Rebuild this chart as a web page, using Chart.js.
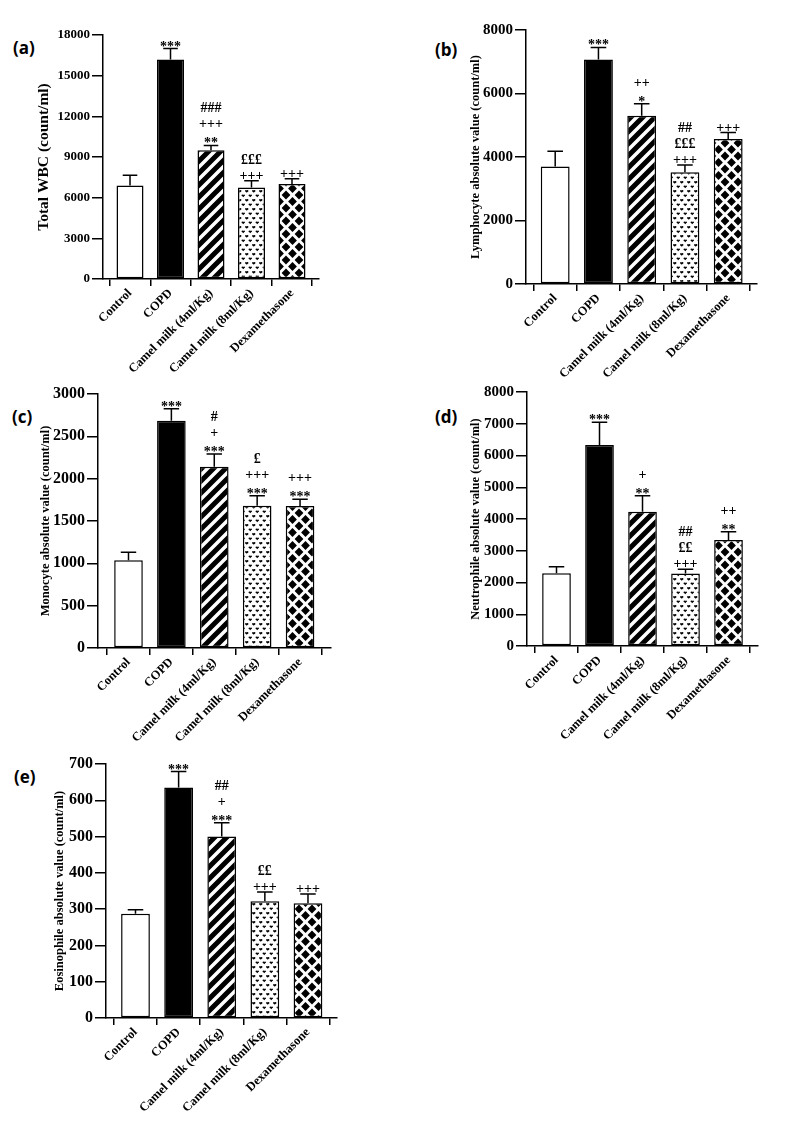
<!DOCTYPE html>
<html><head><meta charset="utf-8">
<script src="https://cdn.jsdelivr.net/npm/chart.js@4.4.1/dist/chart.umd.min.js"></script>
<style>
html,body{margin:0;padding:0;background:#fff;}
body{width:787px;height:1140px;position:relative;overflow:hidden;}
canvas.pc{position:absolute;}
.lbl{position:absolute;font-family:"Open Sans",sans-serif;font-weight:700;font-size:17px;color:#000;line-height:1;}
</style></head><body>
<div class="lbl" style="left:13px;top:39px">(a)</div>
<div class="lbl" style="left:435px;top:41px">(b)</div>
<div class="lbl" style="left:12px;top:408px">(c)</div>
<div class="lbl" style="left:435px;top:408px">(d)</div>
<div class="lbl" style="left:14px;top:768px">(e)</div>
<canvas id="ca" class="pc" width="330" height="385" style="left:0;top:0;width:330px;height:385px"></canvas>
<canvas id="cb" class="pc" width="387" height="385" style="left:400px;top:0;width:387px;height:385px"></canvas>
<canvas id="cc" class="pc" width="340" height="400" style="left:0;top:370px;width:340px;height:400px"></canvas>
<canvas id="cd" class="pc" width="387" height="400" style="left:400px;top:370px;width:387px;height:400px"></canvas>
<canvas id="ce" class="pc" width="350" height="400" style="left:0;top:740px;width:350px;height:400px"></canvas>
<script>
// ---------- data ----------
const categories = ["Control", "COPD", "Camel milk (4ml/Kg)", "Camel milk (8ml/Kg)", "Dexamethasone"];

const wbcMean = [6900, 16200, 9500, 6750, 7000];
const wbcSem  = [750, 800, 350, 500, 400];
const wbcTicks = [0, 3000, 6000, 9000, 12000, 15000, 18000];
const wbcMarks = [[], ["***"], ["**", "+++", "###"], ["+++", "£££"], ["+++"]];

const lymMean = [3700, 7070, 5300, 3520, 4570];
const lymSem  = [480, 380, 380, 230, 200];
const lymTicks = [0, 2000, 4000, 6000, 8000];
const lymMarks = [[], ["***"], ["*", "++"], ["+++", "£££", "##"], ["+++"]];

const monMean = [1035, 2685, 2140, 1680, 1677];
const monSem  = [95, 142, 151, 119, 79];
const monTicks = [0, 500, 1000, 1500, 2000, 2500, 3000];
const monMarks = [[], ["***"], ["***", "+", "#"], ["***", "+++", "£"], ["***", "+++"]];

const neuMean = [2290, 6330, 4230, 2285, 3340];
const neuSem  = [210, 715, 505, 130, 260];
const neuTicks = [0, 1000, 2000, 3000, 4000, 5000, 6000, 7000, 8000];
const neuMarks = [[], ["***"], ["**", "+"], ["+++", "££", "##"], ["**", "++"]];

const eosMean = [287, 635, 500, 322, 316];
const eosSem  = [11, 44, 38, 25, 26];
const eosTicks = [0, 100, 200, 300, 400, 500, 600, 700];
const eosMarks = [[], ["***"], ["***", "+", "##"], ["+++", "££"], ["+++"]];

// ---------- patterns ----------
function tile(w, h, draw) {
  const c = document.createElement('canvas'); c.width = w; c.height = h;
  const g = c.getContext('2d'); g.fillStyle = '#fff'; g.fillRect(0, 0, w, h);
  g.fillStyle = '#000'; g.strokeStyle = '#000'; draw(g, w, h);
  return document.createElement('canvas').getContext('2d').createPattern(c, 'repeat');
}
function stripes() {
  return tile(12, 12, (g, w) => {
    g.lineWidth = 5; g.lineCap = 'square';
    g.beginPath();
    g.moveTo(-2, w + 2); g.lineTo(w + 2, -2);
    g.moveTo(-8, 8); g.lineTo(8, -8);
    g.moveTo(4, 20); g.lineTo(20, 4);
    g.stroke();
  });
}
function hearts() {
  return tile(7, 9, (g) => {
    const heart = (cx, cy) => {
      g.beginPath();
      g.arc(cx - 0.8, cy - 0.5, 0.85, 0, Math.PI * 2);
      g.arc(cx + 0.8, cy - 0.5, 0.85, 0, Math.PI * 2);
      g.fill();
      g.beginPath(); g.moveTo(cx - 1.6, cy - 0.3); g.lineTo(cx + 1.6, cy - 0.3); g.lineTo(cx, cy + 1.5); g.closePath(); g.fill();
    };
    heart(1.75, 2.25); heart(5.25, 6.75);
  });
}
function diamonds() {
  return tile(13, 13, (g, w) => {
    const d = 4.4;
    const dia = (cx, cy) => { g.beginPath(); g.moveTo(cx, cy - d); g.lineTo(cx + d, cy); g.lineTo(cx, cy + d); g.lineTo(cx - d, cy); g.closePath(); g.fill(); };
    dia(6.5, 6.5); dia(0, 0); dia(w, 0); dia(0, w); dia(w, w);
  });
}
const fills = ['#ffffff', '#000000', stripes(), hearts(), diamonds()];

// ---------- helpers ----------
const SERIF = '"Liberation Serif", "Times New Roman", serif';
function errPlugin(sem, marks) {
  return {
    id: 'errMarks',
    afterDatasetsDraw(chart) {
      const ctx = chart.ctx, y = chart.scales.y;
      const meta = chart.getDatasetMeta(0), ds = chart.data.datasets[0];
      ctx.save();
      ctx.strokeStyle = '#000'; ctx.lineWidth = 1.5; ctx.fillStyle = '#000';
      meta.data.forEach((bar, i) => {
        const v = ds.data[i].y;
        const px = bar.x, by = bar.y, top = y.getPixelForValue(v + sem[i]);
        const half = bar.width * 0.27;
        ctx.beginPath();
        ctx.moveTo(px, by); ctx.lineTo(px, top);
        ctx.moveTo(px - half, top); ctx.lineTo(px + half, top);
        ctx.stroke();
        ctx.font = 'bold 14px ' + SERIF; ctx.textAlign = 'center'; ctx.textBaseline = 'alphabetic';
        marks[i].forEach((m, k) => {
          const c = top - 6 - 16 * k;
          const off = m[0] === '*' ? 8 : 5;
          ctx.fillText(m, px, c + off);
        });
      });
      ctx.restore();
    }
  };
}

function makeChart(id, g, mean, sem, ticks, marks, title) {
  new Chart(document.getElementById(id), {
    type: 'bar',
    data: {
      datasets: [{
        data: mean.map((v, i) => ({ x: i + 1, y: v })),
        backgroundColor: fills, borderColor: '#000', borderWidth: 1.5, borderSkipped: false,
        categoryPercentage: 1, barPercentage: 0.667
      }]
    },
    options: {
      responsive: false, animation: false, devicePixelRatio: 1,
      layout: { padding: { left: 0, top: g.padTop, right: g.padRight, bottom: 0 } },
      plugins: { legend: { display: false }, tooltip: { enabled: false } },
      scales: {
        x: {
          type: 'linear', min: g.xmin, max: g.xmax, offset: false,
          afterBuildTicks: s => { s.ticks = categories.map((c, i) => ({ value: i + 1 })); },
          afterFit: s => { s.height = g.xH; },
          ticks: { autoSkip: false, minRotation: 45, maxRotation: 45, padding: 0, color: '#000',
            font: { family: SERIF, weight: 'bold', size: 12.5 },
            callback: v => categories[Math.round(v) - 1] },
          grid: { drawOnChartArea: false, drawTicks: true, tickLength: 7, color: '#000', lineWidth: 1.5 },
          border: { display: true, color: '#000', width: 1.5 }
        },
        y: {
          type: 'linear', min: 0, max: ticks[ticks.length - 1],
          afterBuildTicks: s => { s.ticks = ticks.map(v => ({ value: v })); },
          afterFit: s => { s.width = g.yW; },
          ticks: { padding: 2, color: '#000', font: { family: SERIF, weight: 'bold', size: g.tickSize },
            callback: v => String(v) },
          grid: { drawOnChartArea: false, drawTicks: true, tickLength: 11, color: '#000', lineWidth: 1.5 },
          border: { display: true, color: '#000', width: 1.5 },
          title: { display: true, text: title, color: '#000',
            font: { family: SERIF, weight: 'bold', size: g.titleSize },
            padding: { top: g.titlePad, bottom: 0 } }
        }
      }
    },
    plugins: [errPlugin(sem, marks)]
  });
}

makeChart('ca', { padTop: 35, padRight: 11, yW: 103, xH: 106, xmin: 0.333, xmax: 5.667, tickSize: 13, titleSize: 15.5, titlePad: 35 },
  wbcMean, wbcSem, wbcTicks, wbcMarks, 'Total WBC (count/ml)');
makeChart('cb', { padTop: 30, padRight: 30, yW: 126, xH: 101, xmin: 0.325, xmax: 5.666, tickSize: 15, titleSize: 12.5, titlePad: 68.5 },
  lymMean, lymSem, lymTicks, lymMarks, 'Lymphocyte absolute value (count/ml)');
makeChart('cc', { padTop: 24, padRight: 9.5, yW: 98, xH: 122, xmin: 0.289, xmax: 5.71, tickSize: 16, titleSize: 12.5, titlePad: 38.5 },
  monMean, monSem, monTicks, monMarks, 'Monocyte absolute value (count/ml)');
makeChart('cd', { padTop: 22, padRight: 29.5, yW: 127, xH: 124, xmin: 0.314, xmax: 5.674, tickSize: 15, titleSize: 12.5, titlePad: 68.5 },
  neuMean, neuSem, neuTicks, neuMarks, 'Neutrophile absolute value (count/ml)');
makeChart('ce', { padTop: 24, padRight: 13, yW: 106, xH: 122, xmin: 0.316, xmax: 5.673, tickSize: 16, titleSize: 12.5, titlePad: 52.5 },
  eosMean, eosSem, eosTicks, eosMarks, 'Eosinophile absolute value (count/ml)');
</script>
</body></html>
